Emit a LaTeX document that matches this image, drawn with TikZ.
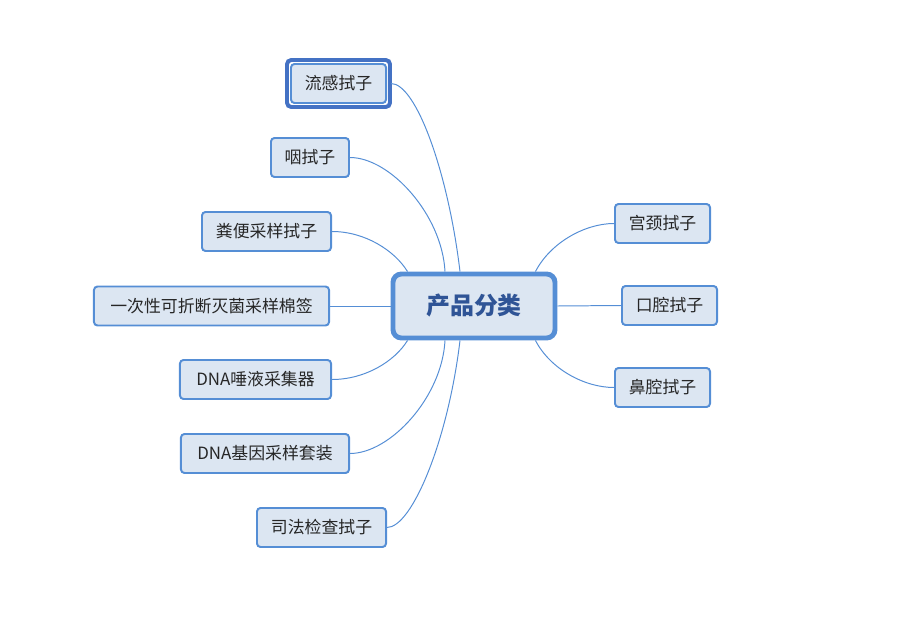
\documentclass[tikz,border=0pt]{standalone}
\usepackage{fontspec}
\setmainfont{Noto Sans CJK SC}
\usetikzlibrary{calc}
\definecolor{LineClr}{RGB}{85,142,213}
\definecolor{BoxClr}{RGB}{220,230,242}
\definecolor{SelClr}{RGB}{68,114,196}
\definecolor{TitleClr}{RGB}{47,84,150}
\definecolor{TextClr}{RGB}{38,38,38}

\begin{document}
\begin{tikzpicture}[x=0.025cm,y=-0.025cm,
  leaf/.style={draw=LineClr,line width=1.4pt,fill=BoxClr,rounded corners=2.5pt,text=TextClr,
    font=\fontsize{12}{14}\selectfont,minimum height=0.975cm,inner sep=0pt},
  root/.style={draw=LineClr,line width=3.5pt,fill=BoxClr,rounded corners=6pt,text=TitleClr,
    font=\fontsize{17}{20}\selectfont\bfseries,minimum width=4.05cm,minimum height=1.6cm},
  link/.style={draw=LineClr,line width=0.7pt}]
\useasboundingbox (0,0) rectangle (902,618);

\node[root] (cat) at (474,306) {产品分类};

\node[leaf,minimum width=2.375cm] (flu) at (338.5,83.5) {流感拭子};
\node[leaf,minimum width=1.95cm] (yan) at (310,157.5) {咽拭子};
\node[leaf,minimum width=3.225cm] (fen) at (266.5,231.5) {粪便采样拭子};
\node[leaf,minimum width=5.875cm] (yici) at (211.5,306) {一次性可折断灭菌采样棉签};
\node[leaf,minimum width=3.775cm] (tuoye) at (255.5,379.5) {DNA唾液采集器};
\node[leaf,minimum width=4.2cm] (jiyin) at (265,453.5) {DNA基因采样套装};
\node[leaf,minimum width=3.225cm] (sifa) at (321.5,527.5) {司法检查拭子};
\node[leaf,minimum width=2.375cm] (gong) at (662.5,223.5) {宫颈拭子};
\node[leaf,minimum width=2.375cm] (kou) at (669.5,305.5) {口腔拭子};
\node[leaf,minimum width=2.375cm] (bi) at (662.5,387.5) {鼻腔拭子};

\draw[SelClr,line width=2.8pt,rounded corners=3pt] ($(flu.north west)+(-3,-3)$) rectangle ($(flu.south east)+(3,3)$);

\draw[link] ($(flu.east)+(4,0)$) .. controls +(25,0) and +(-12,-100) .. ($(cat.north)+(-14,0)$);
\draw[link] (yan.east) .. controls +(40,0) and +(-3,-57) .. ($(cat.north)+(-29,0)$);
\draw[link] (fen.east) .. controls +(33,0) and +(-13,-21) .. ($(cat.north west)+(17,0)$);
\draw[link] (yici.east) -- (cat.west);
\draw[link] (tuoye.east) .. controls +(33,0) and +(-13,21) .. ($(cat.south west)+(17,0)$);
\draw[link] (jiyin.east) .. controls +(40,0) and +(-3,57) .. ($(cat.south)+(-29,0)$);
\draw[link] (sifa.east) .. controls +(25,0) and +(-12,100) .. ($(cat.south)+(-14,0)$);
\draw[link] (gong.west) .. controls +(-29,0) and +(15,-29) .. ($(cat.north east)+(-22,0)$);
\draw[link] (kou.west) -- (cat.east);
\draw[link] (bi.west) .. controls +(-29,0) and +(15,29) .. ($(cat.south east)+(-22,0)$);

\end{tikzpicture}
\end{document}
